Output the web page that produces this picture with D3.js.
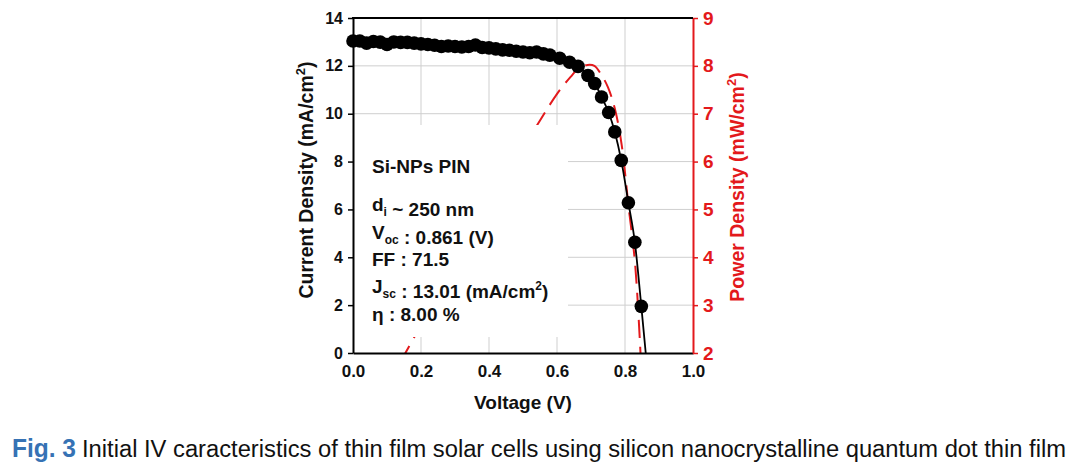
<!DOCTYPE html>
<html>
<head>
<meta charset="utf-8">
<script src="https://cdn.jsdelivr.net/npm/d3@7"></script>
<style>
  html, body { margin: 0; padding: 0; background: #fff; }
  svg { display: block; }
  text { font-family: "Liberation Sans", Arial, sans-serif; }
</style>
</head>
<body>
<svg id="chart" width="1078" height="467"></svg>
<script>
// ---- data ----
const voltage = [0.00,0.02,0.04,0.06,0.08,0.10,0.12,0.14,0.16,0.18,0.20,0.22,0.24,0.26,0.28,0.30,0.32,0.34,0.36,0.38,0.40,0.42,0.44,0.46,0.48,0.50,0.52,0.54,0.56,0.579,0.608,0.637,0.662,0.691,0.711,0.731,0.752,0.770,0.789,0.810,0.829,0.848];
const currentDensity = [13.04,13.04,12.95,13.02,12.99,12.89,13.00,12.98,12.98,12.95,12.92,12.89,12.86,12.81,12.83,12.81,12.79,12.81,12.87,12.77,12.75,12.71,12.67,12.65,12.61,12.58,12.55,12.58,12.50,12.45,12.32,12.15,11.98,11.60,11.26,10.70,10.05,9.24,8.05,6.28,4.63,1.95];
const vocPoint = [0.861, 0];
const powerVoltage = [0.14,0.18,0.25,0.30,0.35,0.40,0.45,0.50,0.55,0.58,0.61,0.64,0.665,0.69,0.71,0.73,0.75,0.77,0.79,0.81,0.83,0.848];
const powerDensity = [1.82,2.33,3.21,3.84,4.49,5.10,5.69,6.28,6.86,7.20,7.51,7.77,7.96,8.02,8.00,7.82,7.55,7.11,6.36,5.09,3.84,1.65];
const xTicks = [0,0.2,0.4,0.6,0.8,1.0];
const yLeftTicks = [0,2,4,6,8,10,12,14];
const yRightTicks = [2,3,4,5,6,7,8,9];
const infoLines = ["Si-NPs PIN","d_i ~ 250 nm","V_oc : 0.861 (V)","FF : 71.5","J_sc : 13.01 (mA/cm^2)","η : 8.00 %"];
const caption = ["Fig. 3", "Initial IV caracteristics of thin film solar cells using silicon nanocrystalline quantum dot thin film"];

// ---- layout ----
const svg = d3.select("#chart");
const L = 353, R = 693, T = 18, B = 353;
const RED = "#e3191c";
const FONT = "Liberation Sans, Arial, sans-serif";
const x = d3.scaleLinear().domain([0,1]).range([L,R]);
const yL = d3.scaleLinear().domain([0,14]).range([B,T]);
const yR = d3.scaleLinear().domain([2,9]).range([B,T]);

const clip = svg.append("defs").append("clipPath").attr("id","plotclip");
clip.append("rect").attr("x",L).attr("y",T).attr("width",R-L).attr("height",B-T);

// gridlines
const grid = svg.append("g").attr("stroke","#cfcfcf").attr("stroke-width",1);
grid.selectAll("line.v").data(xTicks.slice(1,-1)).join("line")
  .attr("x1",d=>x(d)).attr("x2",d=>x(d)).attr("y1",T).attr("y2",B);
grid.selectAll("line.h").data(yLeftTicks.slice(1,-1)).join("line")
  .attr("x1",L).attr("x2",R).attr("y1",d=>yL(d)).attr("y2",d=>yL(d));

// power curve (red dashed)
const pts = powerVoltage.map((v,i)=>[v,powerDensity[i]]);
svg.append("path").datum(pts)
  .attr("clip-path","url(#plotclip)")
  .attr("fill","none").attr("stroke",RED).attr("stroke-width",2)
  .attr("stroke-dasharray","18,9")
  .attr("d", d3.line().x(d=>x(d[0])).y(d=>yR(d[1])).curve(d3.curveCatmullRom.alpha(0.5)));

// white box for annotation
svg.append("rect").attr("x",L+1).attr("y",125).attr("width",568-L-1).attr("height",337-125).attr("fill","#fff");

// annotation text
const infoY = [173,211,239,266,293,321];
const info = svg.append("g").attr("font-size",19).attr("font-weight","bold").attr("fill","#111");
infoLines.forEach((s,i)=>{
  const t = info.append("text").attr("x",372).attr("y",infoY[i]);
  const m = s.match(/^([^_]*)(?:_(\w+))?(.*)$/);
  t.append("tspan").text(m[1]);
  let rest = m[3];
  if (m[2]) {
    t.append("tspan").attr("font-size",12).attr("dy",5).text(m[2]);
    t.append("tspan").attr("dy",-5).text("");
  }
  const sm = rest.match(/^(.*)\^(\w)(.*)$/);
  if (sm) {
    t.append("tspan").text(sm[1]);
    t.append("tspan").attr("font-size",12).attr("dy",-8).text(sm[2]);
    t.append("tspan").attr("dy",8).text(sm[3]);
  } else {
    t.append("tspan").text(rest);
  }
});

// IV curve line
const ivPts = voltage.map((v,i)=>[v,currentDensity[i]]).concat([vocPoint]);
svg.append("path").datum(ivPts)
  .attr("fill","none").attr("stroke","#000").attr("stroke-width",1.8)
  .attr("d", d3.line().x(d=>x(d[0])).y(d=>yL(d[1])).curve(d3.curveMonotoneX));

// dots
svg.append("g").selectAll("circle").data(voltage).join("circle")
  .attr("cx",d=>x(d)).attr("cy",(d,i)=>yL(currentDensity[i])).attr("r",6.8).attr("fill","#000");

// axes
const axL = svg.append("g").attr("transform",`translate(${L},0)`)
  .call(d3.axisLeft(yL).tickValues(yLeftTicks).tickSize(5).tickSizeOuter(0).tickPadding(5).tickFormat(d3.format("d")));
axL.select(".domain").attr("stroke","#000").attr("stroke-width",2);
axL.selectAll(".tick line").attr("stroke","#000").attr("stroke-width",1.5);
axL.selectAll("text").attr("font-size",16).attr("font-weight","bold").attr("fill","#111").attr("font-family",FONT);

const axB = svg.append("g").attr("transform",`translate(0,${B})`)
  .call(d3.axisBottom(x).tickValues(xTicks).tickSize(0).tickSizeOuter(0).tickPadding(12).tickFormat(d3.format(".1f")));
axB.select(".domain").attr("stroke","#000").attr("stroke-width",2);
axB.selectAll("text").attr("font-size",17).attr("font-weight","bold").attr("fill","#111").attr("font-family",FONT);

const axR = svg.append("g").attr("transform",`translate(${R},0)`)
  .call(d3.axisRight(yR).tickValues(yRightTicks).tickSize(5).tickSizeOuter(0).tickPadding(5).tickFormat(d3.format("d")));
axR.select(".domain").attr("stroke",RED).attr("stroke-width",2);
axR.selectAll(".tick line").attr("stroke",RED).attr("stroke-width",1.5);
axR.selectAll("text").attr("font-size",19).attr("font-weight","bold").attr("fill",RED).attr("font-family",FONT);

// top border
svg.append("line").attr("x1",L-1).attr("x2",R).attr("y1",T).attr("y2",T).attr("stroke","#000").attr("stroke-width",2);

// axis titles
svg.append("text").attr("x",523).attr("y",409).attr("text-anchor","middle")
  .attr("font-size",19).attr("font-weight","bold").attr("fill","#111").text("Voltage (V)");

const lt = svg.append("text").attr("transform","translate(313,180) rotate(-90)").attr("text-anchor","middle")
  .attr("font-size",19.5).attr("font-weight","bold").attr("fill","#111");
lt.append("tspan").text("Current Density (mA/cm");
lt.append("tspan").attr("font-size",13).attr("dy",-8).text("2");
lt.append("tspan").attr("dy",8).text(")");

const rt = svg.append("text").attr("transform","translate(744,187) rotate(-90)").attr("text-anchor","middle")
  .attr("font-size",19.5).attr("font-weight","bold").attr("fill",RED);
rt.append("tspan").text("Power Density (mW/cm");
rt.append("tspan").attr("font-size",13).attr("dy",-8).text("2");
rt.append("tspan").attr("dy",8).text(")");

// caption
svg.append("text").attr("x",12).attr("y",457).attr("font-family","Liberation Sans, sans-serif")
  .attr("font-size",25).attr("font-weight","bold").attr("fill","#3672b4")
  .attr("textLength",64).attr("lengthAdjust","spacingAndGlyphs").text(caption[0]);
svg.append("text").attr("x",82).attr("y",457).attr("font-family","Liberation Sans, sans-serif")
  .attr("font-size",23).attr("fill","#111")
  .attr("textLength",984).attr("lengthAdjust","spacingAndGlyphs").text(caption[1]);
</script>
</body>
</html>
